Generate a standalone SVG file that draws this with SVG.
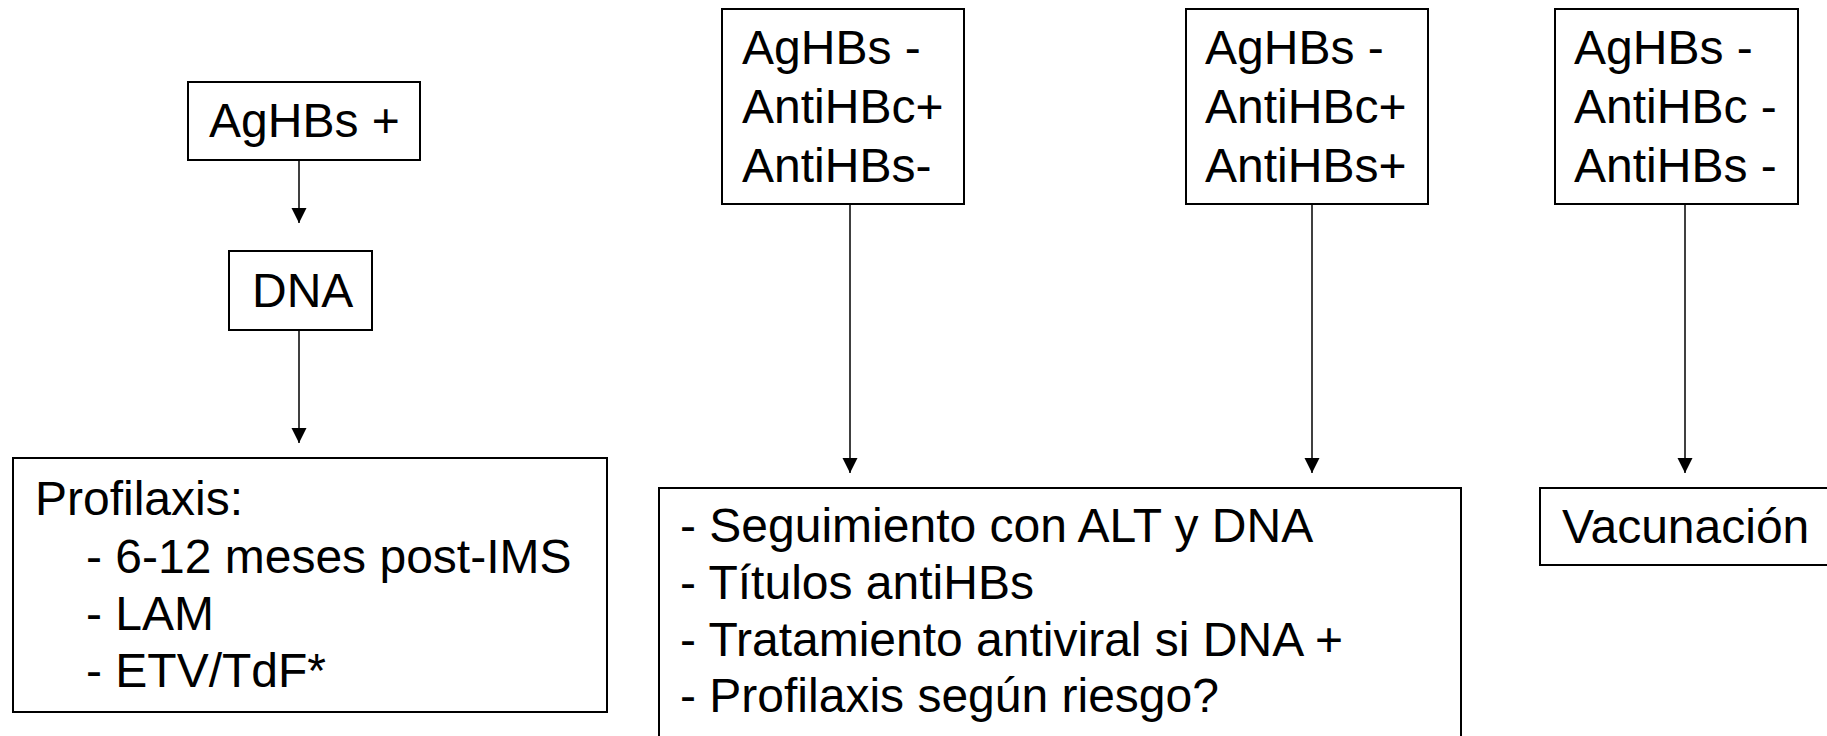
<svg xmlns="http://www.w3.org/2000/svg" width="1827" height="736" viewBox="0 0 1827 736">
<style>
.box{fill:#fff;stroke:#000;stroke-width:2}
.t{font-family:"Liberation Sans",Arial,sans-serif;font-size:48px;fill:#000}
.c{stroke:#000;stroke-width:1.5;fill:none;marker-end:url(#ah)}
</style>
<defs>
<marker id="ah" markerUnits="userSpaceOnUse" markerWidth="16" markerHeight="16" viewBox="0 0 16 16" refX="15" refY="8" orient="auto">
<path d="M0,0.5 L15,8 L0,15.5 Z" fill="#000"/>
</marker>
</defs>
<rect width="1827" height="736" fill="#fff"/>
<g id="connectors">
<line class="c" x1="299" y1="160" x2="299" y2="223"/>
<line class="c" x1="299" y1="330" x2="299" y2="443"/>
<line class="c" x1="850" y1="204" x2="850" y2="473"/>
<line class="c" x1="1312" y1="200" x2="1312" y2="473"/>
<line class="c" x1="1685" y1="200" x2="1685" y2="473"/>
</g>
<g id="agHBsPos">
<rect class="box" x="188" y="82" width="232" height="78"/>
<text class="t" x="209" y="137">AgHBs +</text>
</g>
<g id="dna">
<rect class="box" x="229" y="251" width="143" height="79"/>
<text class="t" x="252" y="307">DNA</text>
</g>
<g id="profilaxis">
<rect class="box" x="13" y="458" width="594" height="254"/>
<text class="t" x="35" y="515">Profilaxis:</text>
<text class="t" x="86" y="573">- 6-12 meses post-IMS</text>
<text class="t" x="86" y="630">- LAM</text>
<text class="t" x="86" y="687">- ETV/TdF*</text>
</g>
<g id="box1">
<rect class="box" x="722" y="9" width="242" height="195"/>
<text class="t" x="742" y="64">AgHBs -</text>
<text class="t" x="742" y="123">AntiHBc+</text>
<text class="t" x="742" y="182">AntiHBs-</text>
</g>
<g id="box2">
<rect class="box" x="1186" y="9" width="242" height="195"/>
<text class="t" x="1205" y="64">AgHBs -</text>
<text class="t" x="1205" y="123">AntiHBc+</text>
<text class="t" x="1205" y="182">AntiHBs+</text>
</g>
<g id="box3">
<rect class="box" x="1555" y="9" width="243" height="195"/>
<text class="t" x="1574" y="64">AgHBs -</text>
<text class="t" x="1574" y="123">AntiHBc -</text>
<text class="t" x="1574" y="182">AntiHBs -</text>
</g>
<g id="seguimiento">
<rect class="box" x="659" y="488" width="802" height="260"/>
<text class="t" x="680" y="542">- Seguimiento con ALT y DNA</text>
<text class="t" x="680" y="599">- Títulos antiHBs</text>
<text class="t" x="680" y="656">- Tratamiento antiviral si DNA +</text>
<text class="t" x="680" y="712">- Profilaxis según riesgo?</text>
</g>
<g id="vacunacion">
<rect class="box" x="1540" y="488" width="300" height="77"/>
<text class="t" x="1562" y="543">Vacunación</text>
</g>
</svg>
